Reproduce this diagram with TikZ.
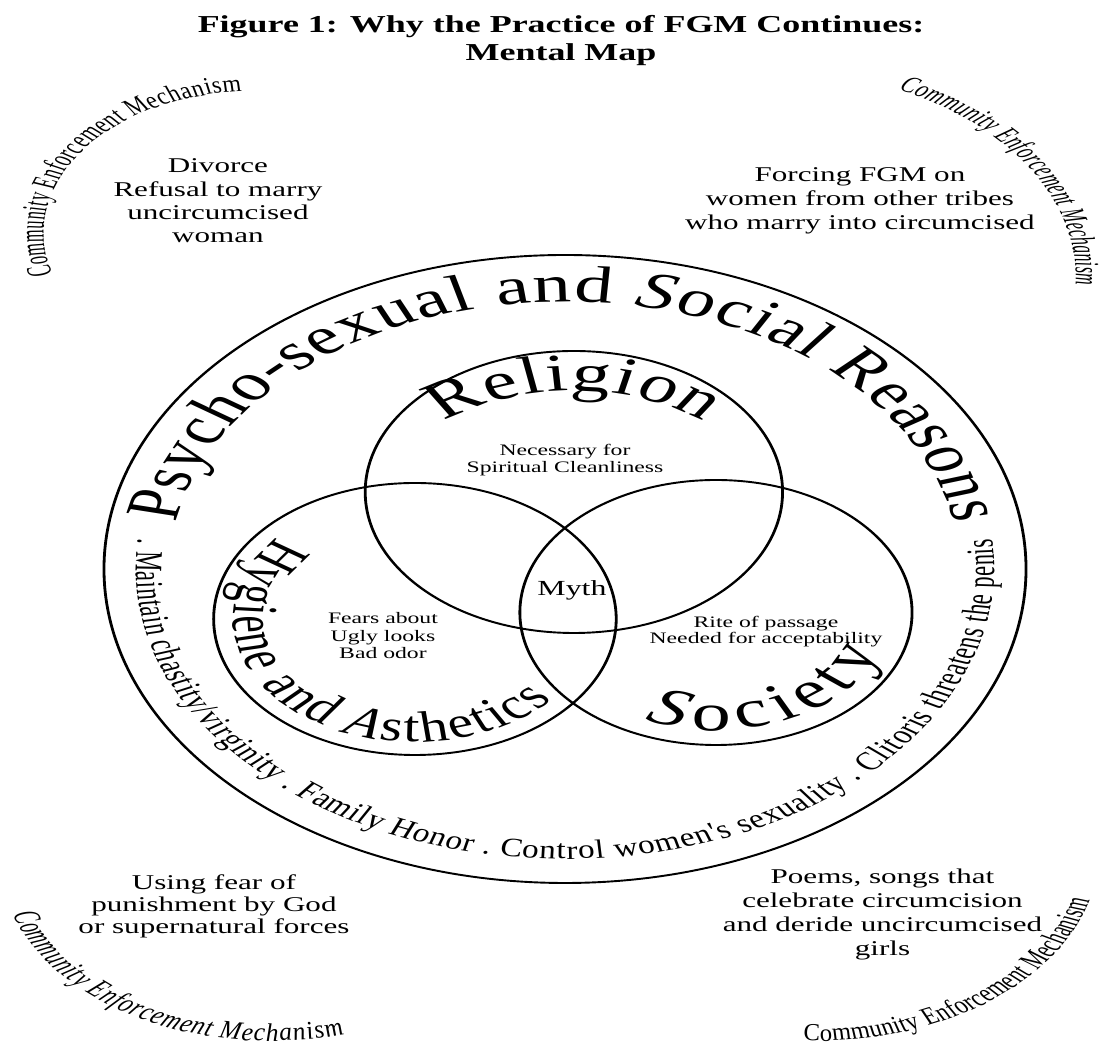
\documentclass[tikz,border=0pt]{standalone}
\usepackage{fontspec}
\setmainfont{Liberation Serif}
\newfontfamily\cornerfont[FakeStretch=0.68]{Liberation Serif}
\newfontfamily\bandfont[FakeStretch=0.85]{Liberation Serif}
\newfontfamily\hygfont[FakeStretch=0.88]{Liberation Serif}
\usetikzlibrary{decorations.text}
\newcommand\fsz[1]{\fontsize{#1}{#1}\selectfont}
\newcommand\fst[2]{\fontsize{#1}{#2}\selectfont}
\begin{document}
\begin{tikzpicture}[x=1pt,y=1pt,
  ring/.style={line width=1.9pt},
  plain/.style={inner sep=0pt, align=center},
  arctext/.style={decorate, decoration={text along path, text align={fit to path}, text={#1}}}
]
\path[use as bounding box, fill=white] (0,0) rectangle (1105,1048);
\begin{scope}[transform canvas={shift={(565pt,479pt)},xscale=1.48}]
% circles
\draw[ring] (0,0) ellipse [x radius=311.5, y radius=314];
\draw[ring] (6,77) circle [radius=141];
\draw[ring] (-101.4,-50) circle [radius=136];
\draw[ring] (102,-43.5) circle [radius=132.5];
% curved texts
\path[arctext={|\fsz{52}|Psycho-sexual and |\fsz{52}\itshape|S|\fsz{52}|ocial Reasons}]
  (170:267) arc[start angle=170, end angle=10, radius=267];
\path[arctext={|\bandfont\fsz{26.5}|. Maintain chastity/virginity . Family Honor . Control women's sexuality . Clitoris threatens the penis}]
  (174:290) arc[start angle=174, end angle=366, radius=290];
\path[arctext={|\fsz{53}|Religion}, shift={(6,36)}]
  (128:142) arc[start angle=128, end angle=52, radius=142];
\path[arctext={|\hygfont\fsz{44}|Hygiene and |\hygfont\fsz{44}\itshape|A|\hygfont\fsz{44}|sthetics}, shift={(-101.4,-50)}]
  (139:123) arc[start angle=139, end angle=319, radius=123];
\path[arctext={|\fsz{53}\itshape|S|\fsz{53}|ociety}, shift={(102,-43.5)}]
  (246:118) arc[start angle=246, end angle=340, radius=118];
% corner arcs
\path[arctext={|\cornerfont\fsz{24}|Community Enforcement Mechanism}, shift={(-210.8,336)}]
  (197:141.5) arc[start angle=197, end angle=93, radius=141.5];
\path[arctext={|\cornerfont\fsz{23.5}\itshape|Community Enforcement Mechanism}, shift={(137.2,291)}]
  (65:208) arc[start angle=65, end angle=-2, radius=208];
\path[arctext={|\cornerfont\fsz{25.5}\itshape|Community Enforcement Mechanism}, shift={(-199.3,-289)}]
  (198:183) arc[start angle=198, end angle=286, radius=183];
\path[arctext={|\cornerfont\fsz{24.5}|Community Enforcement Mechanism}, shift={(171,-282)}]
  (267:190) arc[start angle=267, end angle=345, radius=190];
% text blocks
\node[plain, font=\bfseries\fst{24.3}{28}] (title) at (-2.7,528.6)
  {Figure 1: Why the Practice of FGM Continues:\\Mental Map};
\node[plain, font=\fst{21}{23.3}] (tl) at (-234.5,368)
  {Divorce\\Refusal to marry\\uncircumcised\\woman};
\node[plain, font=\fst{21}{24}] (tr) at (199.3,368)
  {Forcing FGM on\\women from other tribes\\who marry into circumcised};
\node[plain, font=\fst{21}{22}] (bl) at (-237.2,-337)
  {Using fear of\\punishment by God\\or supernatural forces};
\node[plain, font=\fst{21}{24}] (br) at (214.5,-345)
  {Poems, songs that\\celebrate circumcision\\and deride uncircumcised\\girls};
\node[plain, font=\fst{16}{17}] (nec) at (0,109)
  {Necessary for\\Spiritual Cleanliness};
\node[plain, font=\fst{16}{17.5}] (fears) at (-123,-67)
  {Fears about\\Ugly looks\\Bad odor};
\node[plain, font=\fst{16}{16.5}] (rite) at (135.8,-62.4)
  {Rite of passage\\Needed for acceptability};
\node[plain, font=\fsz{21.5}] (myth) at (4.7,-21) {Myth};
\end{scope}
\end{tikzpicture}
\end{document}
